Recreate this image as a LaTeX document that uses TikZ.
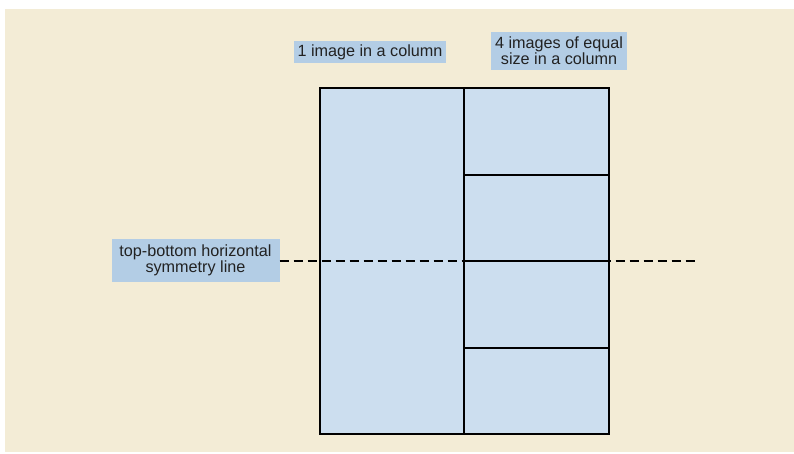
\documentclass[tikz,border=0pt]{standalone}
\usepackage{fontspec}
\setmainfont{Liberation Sans}
\definecolor{bgbeige}{HTML}{F3ECD6}
\definecolor{cellblue}{HTML}{CCDEEF}
\definecolor{labelblue}{HTML}{B3CDE5}
\definecolor{txt}{HTML}{222222}
\begin{document}
\begin{tikzpicture}[x=1pt,y=-1pt,
  cell/.style={draw=black,line width=1.4pt,fill=cellblue,inner sep=0pt,outer sep=0pt},
  lbl/.style={fill=labelblue,inner sep=0pt,outer sep=0pt,text=txt,align=center,
    font=\fontsize{16.2}{14}\selectfont},
  symline/.style={dashed,dash pattern=on 9pt off 5pt,line width=1.4pt,black}]
\useasboundingbox (0,0) rectangle (794,453);
\fill[bgbeige] (5,9) rectangle (794,452);
% cells
\node[cell,minimum width=144pt,minimum height=346pt] (left) at (392,261) {};
\node[cell,minimum width=145pt,minimum height=87pt] (r1) at (536.5,131.5) {};
\node[cell,minimum width=145pt,minimum height=86pt] (r2) at (536.5,218) {};
\node[cell,minimum width=145pt,minimum height=87pt] (r3) at (536.5,304.5) {};
\node[cell,minimum width=145pt,minimum height=86pt] (r4) at (536.5,391) {};
\draw[line width=2pt] (left.north west) rectangle (r4.south east);
% labels
\node[lbl,minimum width=152pt,minimum height=22pt] (la) at (370,52) {1 image in a column};
\node[lbl,minimum width=136pt,minimum height=38pt] (lb) at (559,51) {4 images of equal\\size in a column};
\node[lbl,minimum width=168pt,minimum height=43pt] (lc) at (195.5,260.5) {top-bottom horizontal\\symmetry line};
% symmetry line
\coordinate (symend) at (699,261);
\draw[symline] (lc.east |- symend) -- (symend);
\end{tikzpicture}
\end{document}
